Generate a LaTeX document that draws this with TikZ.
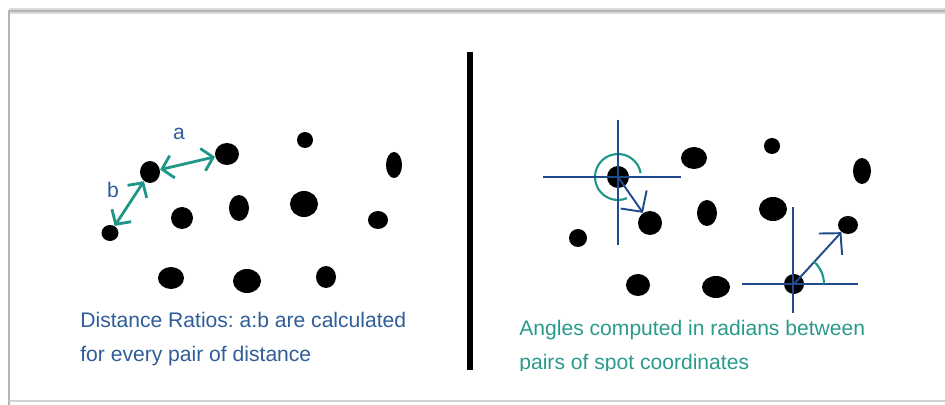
\documentclass[tikz,border=0pt]{standalone}
\usepackage{fontspec}
\setmainfont{Liberation Sans}
\frenchspacing
\usetikzlibrary{shapes.geometric,arrows.meta}
\definecolor{lblue}{HTML}{2E5D98}
\definecolor{teal1}{HTML}{1E9688}
\definecolor{tealtxt}{HTML}{2A9A8C}
\definecolor{cross}{HTML}{1F4A8C}
\definecolor{frame}{HTML}{B4B4B4}
\tikzset{
  spot/.style 2 args={ellipse, fill=black, draw=none, inner sep=0pt, minimum width=#1*0.2mm+0.4mm, minimum height=#2*0.2mm+0.4mm},
  caption/.style={inner sep=0pt, anchor=base west, font=\fontsize{12}{14}\selectfont},
  ratioarrow/.style={teal1, line width=1.6pt, {Straight Barb[length=6pt,width=13pt]}-{Straight Barb[length=6pt,width=13pt]}},
  crossline/.style={cross, line width=1.1pt},
  anglearrow/.style={cross, line width=1.1pt, -{Straight Barb[length=8.5pt,width=18pt]}},
  anglearc/.style={teal1, line width=1.2pt},
}
\begin{document}
\begin{tikzpicture}[x=0.2mm, y=-0.2mm]
\useasboundingbox (0,0) rectangle (945,405);
% frame
\draw[frame!50, line width=3pt] (9,11) -- (960,11);
\draw[frame, line width=1pt] (9,412) -- (9,11) -- (960,11);
\draw[frame!60, line width=0.8pt] (9,401) -- (960,401);
% divider
\draw[black, line width=3.4pt] (470,52) -- (470,370);

% left spots
\node[spot={15}{14}] (L1) at (110,233) {};
\node[spot={18}{20}] (L2) at (150,172) {};
\node[spot={22}{20}] (L3) at (227,154) {};
\node[spot={14}{14}] (L4) at (305,140) {};
\node[spot={14}{24}] (L5) at (394,165) {};
\node[spot={20}{20}] (L6) at (182,218) {};
\node[spot={18}{24}] (L7) at (239,208) {};
\node[spot={26}{24}] (L8) at (304,204) {};
\node[spot={18}{16}] (L9) at (378,220) {};
\node[spot={24}{20}] (L10) at (171,278) {};
\node[spot={26}{22}] (L11) at (247,281) {};
\node[spot={18}{20}] (L12) at (326,277) {};

\draw[ratioarrow] (L2) -- (L3);
\draw[ratioarrow] (L2) -- (L1);
\node[text=lblue, font=\fontsize{12}{14}\selectfont, inner sep=0pt] (la) at (179,134) {a};
\node[text=lblue, font=\fontsize{12}{14}\selectfont, inner sep=0pt] (lb) at (113,190) {b};

\node[caption, text=lblue] (t1) at (80,328) {Distance Ratios: a:b are calculated};
\node[caption, text=lblue] (t2) at (80,362) {for every pair of distance};

% right spots
\node[spot={20}{20}] (R1) at (618,177) {};
\node[spot={22}{22}] (R2) at (650,223) {};
\node[spot={16}{16}] (R3) at (578,238) {};
\node[spot={24}{20}] (R4) at (694,158) {};
\node[spot={14}{14}] (R5) at (772,146) {};
\node[spot={16}{24}] (R6) at (862,171) {};
\node[spot={18}{24}] (R7) at (707,213) {};
\node[spot={26}{22}] (R8) at (773,209) {};
\node[spot={18}{16}] (R9) at (848,225) {};
\node[spot={22}{20}] (R10) at (638,285) {};
\node[spot={26}{20}] (R11) at (716,287) {};
\node[spot={18}{18}] (R12) at (794,284) {};

% crosshair 1
\coordinate (h1w) at (543,177);
\coordinate (h1e) at (681,177);
\coordinate (v1n) at (618,120);
\coordinate (v1s) at (618,245);
\draw[anglearc] ([shift={(10:0.46cm)}]R1.center) arc[start angle=10, end angle=293, radius=0.46cm];
\draw[crossline] (h1w) -- (h1e);
\draw[crossline] (v1n) -- (v1s);
\draw[anglearrow] (R1.center) -- (R2);

% crosshair 2
\coordinate (h2w) at (742,284);
\coordinate (h2e) at (858,284);
\coordinate (v2n) at (793,207);
\coordinate (v2s) at (793,313);
\draw[crossline] (h2w) -- (h2e);
\draw[crossline] (v2n) -- (v2s);
\draw[anglearrow] (R12.center) -- (R9);
\draw[anglearc] ([shift={(0:0.6cm)}]R12.center) arc[start angle=0, end angle=48, radius=0.6cm];

\node[caption, text=tealtxt] (t3) at (519,336) {Angles computed in radians between};
\begin{scope}
\clip (500,340) rectangle (900,371);
\node[caption, text=tealtxt] (t4) at (519,370) {pairs of spot coordinates};
\end{scope}
\end{tikzpicture}
\end{document}
